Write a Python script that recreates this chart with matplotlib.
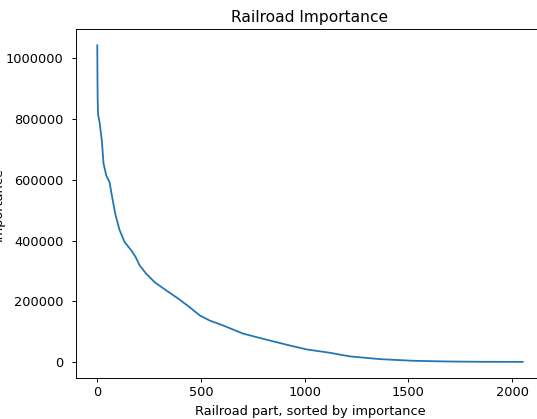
import matplotlib
matplotlib.use("Agg")
import matplotlib.pyplot as plt

# values (rank -> importance)
ranks = [0, 1, 2, 4, 11, 22, 30, 43, 59, 70, 87, 108, 132, 164, 185, 204,
         236, 277, 333, 397, 445, 494, 542, 606, 703, 816, 928, 1009, 1121,
         1218, 1363, 1523, 1684, 1845, 2051]
importance = [1043000, 930000, 860000, 815000, 790000, 730000, 655000, 615000,
              593000, 550000, 487000, 434000, 395000, 368000, 346000, 319000,
              291000, 263000, 236000, 206000, 181000, 154000, 137000, 121000,
              94000, 74000, 55000, 42000, 31000, 19000, 10000, 4600, 2300,
              1300, 1000]

title = "Railroad Importance"
x_label = "Railroad part, sorted by importance"
y_label = "Importance"

# the reference looks like a default figure rendered at lower dpi, so scale sizes down
scale = 0.855
fscale = 0.93
plt.rcParams.update({
    "font.size": 10 * fscale,
    "axes.titlesize": 12 * fscale,
    "lines.linewidth": 1.5 * scale,
    "axes.linewidth": 0.8 * scale,
    "xtick.major.size": 3.5 * scale,
    "ytick.major.size": 3.5 * scale,
    "xtick.major.width": 0.8 * scale,
    "ytick.major.width": 0.8 * scale,
    "xtick.major.pad": 3.5 * scale,
    "ytick.major.pad": 6,
    "axes.titlepad": 5.4,
})

W, H = 537, 419
fig = plt.figure(figsize=(W / 100, H / 100), dpi=100)
# axes runs a bit past the right edge in the reference (cropped screenshot)
ax = fig.add_axes([76 / W, (H - 377.7) / H, (544 - 76) / W, (377.7 - 29.5) / H])

ax.plot(ranks, importance, color="#1f77b4")
ax.ticklabel_format(style="plain", axis="y", useOffset=False)
ax.set_title(title)
ax.set_xlabel(x_label)
ax.set_ylabel(y_label)
# ylabel is mostly cut off by the left edge in the reference
ax.yaxis.set_label_coords(-0.153, 0.5)

fig.savefig("out.png", dpi=100)
